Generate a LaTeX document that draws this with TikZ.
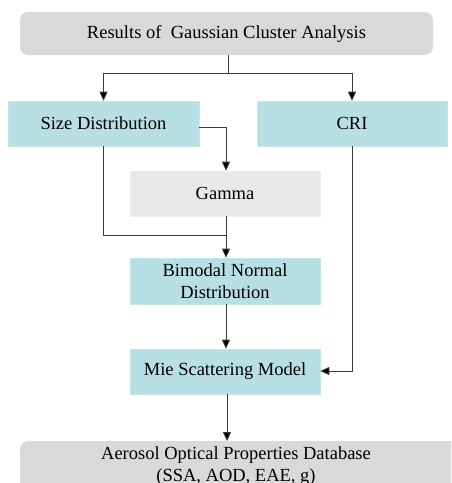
\documentclass[tikz,border=0pt]{standalone}
\usepackage{fontspec}
\setmainfont{Liberation Serif}
\usetikzlibrary{arrows.meta}
\definecolor{teal1}{HTML}{B8DFE4}
\definecolor{gray1}{HTML}{D9D9D9}
\definecolor{gray2}{HTML}{E8E8E8}
\definecolor{lineC}{HTML}{3A3A3A}
\begin{document}
\begin{tikzpicture}[x=1pt,y=-1pt,
  boxbase/.style={inner sep=0pt, font=\rmfamily\fontsize{18.5}{22}\selectfont, text=black, align=center},
  tealbox/.style={boxbase, fill=teal1, draw=teal1!80!white, line width=0.6pt},
  graybox/.style={boxbase, fill=gray2, draw=gray2!80!white, line width=0.6pt},
  roundbox/.style={boxbase, fill=gray1, rounded corners=8pt},
  conn/.style={draw=lineC, line width=0.8pt},
  arr/.style={conn, -{Triangle[width=8pt,length=9pt,fill=black]}}]
\useasboundingbox (0,0) rectangle (451,483);
\clip (0,0) rectangle (451,483);
\fill[white] (0,0) rectangle (451,483);
\node[roundbox, minimum width=413pt, minimum height=43pt] (top) at (226.5,33.5) {Results of \ Gaussian Cluster Analysis};
\node[tealbox, minimum width=191pt, minimum height=45pt] (size) at (103.5,123.5) {Size Distribution};
\node[tealbox, minimum width=190pt, minimum height=45pt] (cri) at (352,123.5) {CRI};
\node[graybox, minimum width=190pt, minimum height=45pt] (gamma) at (225,193.5) {Gamma};
\node[tealbox, minimum width=190pt, minimum height=46pt] (bim) at (225,281) {Bimodal Normal\\Distribution};
\node[tealbox, minimum width=190pt, minimum height=45pt] (mie) at (225,371.5) {Mie Scattering Model};
\node[roundbox, minimum width=440pt, minimum height=60pt, anchor=north west] (db) at (20,441) {};
\node[boxbase, anchor=north] (dbtext) at (236,446) {Aerosol Optical Properties Database\\(SSA, AOD, EAE, g)};
\coordinate (split) at (228,73);
\draw[conn] (top.south -| split) -- (split);
\draw[arr] (split) -| (size.north);
\draw[arr] (split) -| (cri.north);
\coordinate (gtop) at (226,127);
\draw[arr] (size.east |- gtop) -| (gamma.north -| gtop);
\coordinate (join) at (226,235);
\draw[conn] (size.south) |- (join);
\draw[arr] (gamma.south -| join) -- (bim.north -| join);
\draw[arr] (bim.south -| join) -- (mie.north -| join);
\coordinate (crib) at (352,371);
\draw[arr] (cri.south) -- (crib) -- (mie.east |- crib);
\coordinate (mieb) at (227,394);
\draw[arr] (mieb) -- (db.north -| mieb);
\end{tikzpicture}
\end{document}
